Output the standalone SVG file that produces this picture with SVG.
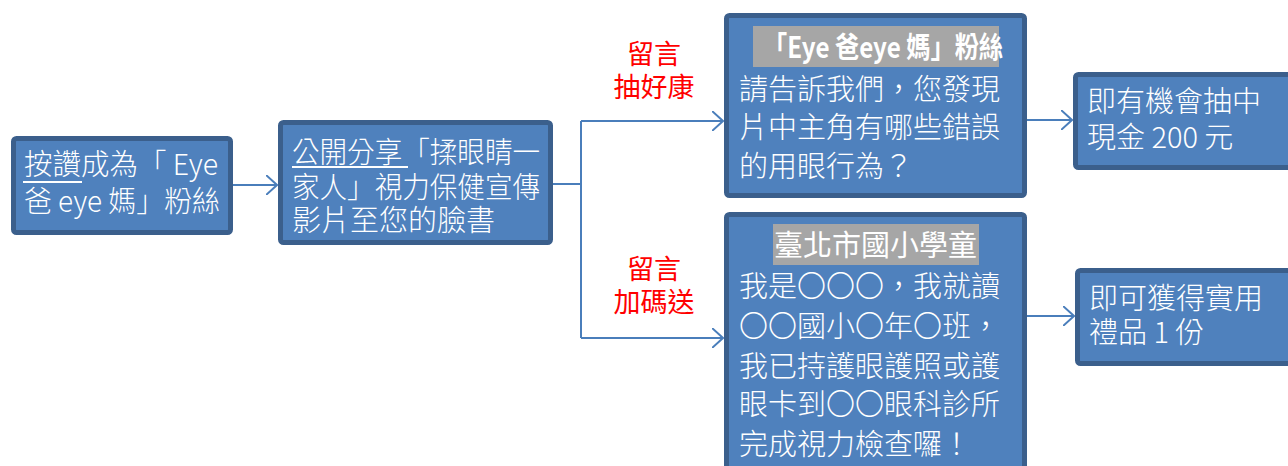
<svg xmlns="http://www.w3.org/2000/svg" width="1288" height="466" viewBox="0 0 1288 466">
<defs>
<style>
.box{fill:#4F81BD;stroke:#3B5F8C;stroke-width:5}
.t{font-family:"Noto Sans CJK TC","Noto Sans CJK SC",sans-serif;font-size:29px;font-weight:300;fill:#FFFFFF}
.b{font-weight:bold}
.m{font-weight:400}
.red{font-family:"Noto Sans CJK TC","Noto Sans CJK SC",sans-serif;font-size:27px;font-weight:400;fill:#FF0000;text-anchor:middle}
.c{fill:none;stroke:#4A7EBB;stroke-width:2}
.hl{fill:#A6A6A6}
.ul{stroke:#FFFFFF;stroke-width:2}
</style>
<marker id="arr" viewBox="0 0 12 20" refX="11" refY="10" markerWidth="12" markerHeight="20" markerUnits="userSpaceOnUse" orient="auto">
<path d="M0,0 L11,10 L0,20" fill="none" stroke="#4A7EBB" stroke-width="2"/>
</marker>
</defs>
<rect width="1288" height="466" fill="#FFFFFF"/>
<g id="connectors">
<path class="c" d="M233,185 H277" marker-end="url(#arr)"/>
<path class="c" d="M553,184 H581"/>
<path class="c" d="M581,121 V338"/>
<path class="c" d="M581,121 H723" marker-end="url(#arr)"/>
<path class="c" d="M581,338 H723" marker-end="url(#arr)"/>
<path class="c" d="M1027,120 H1072" marker-end="url(#arr)"/>
<path class="c" d="M1027,316 H1074" marker-end="url(#arr)"/>
</g>
<g id="label-top">
<text class="red" x="654" y="64">留言</text>
<text class="red" x="654" y="97">抽好康</text>
</g>
<g id="label-bottom">
<text class="red" x="654" y="279">留言</text>
<text class="red" x="654" y="312">加碼送</text>
</g>
<g id="node-like">
<rect class="box" x="13.5" y="138.5" width="217" height="94" rx="3"/>
<text class="t" x="24" y="175" textLength="194" lengthAdjust="spacingAndGlyphs">按讚成為「 Eye</text>
<text class="t" x="24" y="212" textLength="196" lengthAdjust="spacingAndGlyphs">爸 eye 媽」粉絲</text>
<line class="ul" x1="23" y1="182" x2="82" y2="182"/>
</g>
<g id="node-share">
<rect class="box" x="280.5" y="122.5" width="270" height="120" rx="3"/>
<text class="t" x="292" y="163" textLength="248" lengthAdjust="spacingAndGlyphs">公開分享「揉眼睛一</text>
<text class="t" x="292" y="198" textLength="248" lengthAdjust="spacingAndGlyphs">家人」視力保健宣傳</text>
<text class="t" x="292" y="231">影片至您的臉書</text>
<line class="ul" x1="292" y1="167" x2="408" y2="167"/>
</g>
<g id="node-fans">
<rect class="box" x="726.5" y="15.5" width="298" height="180" rx="3"/>
<rect class="hl" x="753" y="26" width="246" height="41"/>
<text class="t b" x="763" y="58" textLength="240" lengthAdjust="spacingAndGlyphs">「Eye 爸eye 媽」粉絲</text>
<text class="t" x="739" y="100">請告訴我們，您發現</text>
<text class="t" x="739" y="138">片中主角有哪些錯誤</text>
<text class="t" x="739" y="177">的用眼行為？</text>
</g>
<g id="node-students">
<rect class="box" x="726.5" y="214.5" width="298" height="270" rx="3"/>
<rect class="hl" x="773" y="224" width="206" height="41"/>
<text class="t m" x="774" y="256">臺北市國小學童</text>
<text class="t" x="739" y="297">我是〇〇〇，我就讀</text>
<text class="t" x="739" y="337">〇〇國小〇年〇班，</text>
<text class="t" x="739" y="377">我已持護眼護照或護</text>
<text class="t" x="739" y="415">眼卡到〇〇眼科診所</text>
<text class="t" x="739" y="455">完成視力檢查囉！</text>
</g>
<g id="node-cash">
<rect class="box" x="1075.5" y="74.5" width="230" height="93" rx="3"/>
<text class="t" x="1087" y="112">即有機會抽中</text>
<text class="t" x="1087" y="148">現金 200 元</text>
</g>
<g id="node-gift">
<rect class="box" x="1077.5" y="270.5" width="230" height="93" rx="3"/>
<text class="t" x="1089" y="309">即可獲得實用</text>
<text class="t" x="1089" y="343">禮品 1 份</text>
</g>
</svg>
